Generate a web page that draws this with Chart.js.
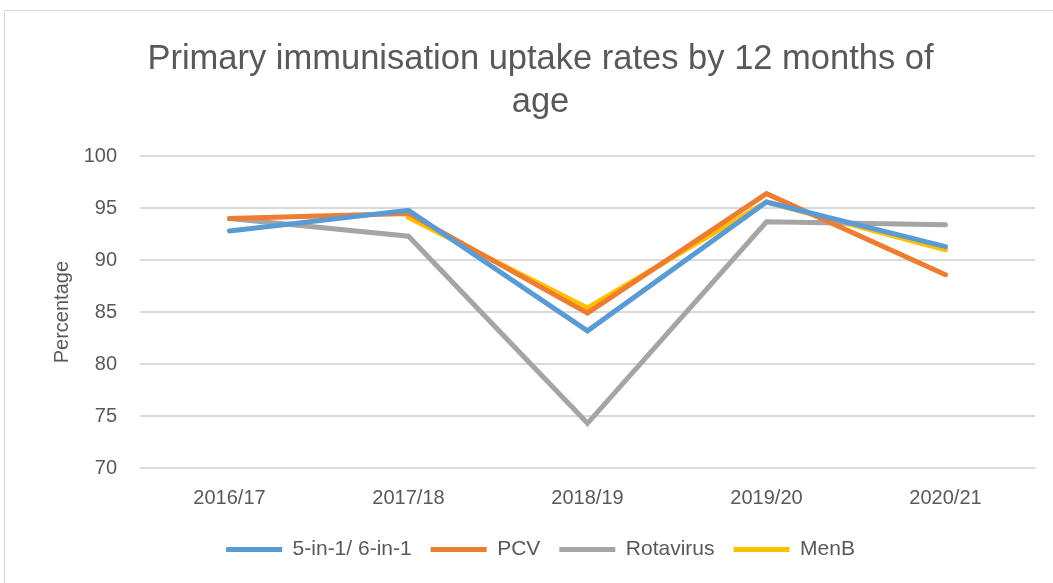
<!DOCTYPE html>
<html>
<head>
<meta charset="utf-8">
<script src="https://cdn.jsdelivr.net/npm/chart.js@4"></script>
<style>
  html, body { margin: 0; padding: 0; background: #fff; }
  #box {
    position: absolute; left: 4px; top: 10px;
    width: 1060px; height: 580px;
    border: 1px solid #d9d9d9; box-sizing: border-box;
  }
  #wrap { position: absolute; left: 0; top: 0; width: 1049px; height: 573px; }
</style>
</head>
<body>
<div id="box"><div id="wrap"><canvas id="c"></canvas></div></div>
<script>
// categories
const years = ["2016/17", "2017/18", "2018/19", "2019/20", "2020/21"];

// uptake (%) per vaccine
const sixInOne = [92.8, 94.8, 83.2, 95.6, 91.3];
const pcv = [94.0, 94.5, 84.9, 96.4, 88.6];
const rotavirus = [94.0, 92.3, 74.3, 93.7, 93.4];
const menB = [null, 94.1, 85.4, 95.6, 91.0];

const yTicks = [70, 75, 80, 85, 90, 95, 100];

const textColor = "#595959";
const font = "'Liberation Sans', sans-serif";

function series(label, data, color) {
  return {
    label: label,
    data: data,
    borderColor: color,
    backgroundColor: color,
    borderWidth: 5,
    pointRadius: 0,
    tension: 0,
    borderCapStyle: "round",
    borderJoinStyle: "miter"
  };
}

const defaultLabels = Chart.defaults.plugins.legend.labels.generateLabels;

new Chart(document.getElementById("c"), {
  type: "line",
  data: {
    labels: years,
    datasets: [
      series("5-in-1/ 6-in-1", sixInOne, "#5b9bd5"),
      series("PCV", pcv, "#ed7d31"),
      series("Rotavirus", rotavirus, "#a5a5a5"),
      series("MenB", menB, "#ffc000")
    ]
  },
  options: {
    responsive: true,
    maintainAspectRatio: false,
    animation: false,
    layout: { padding: { left: 41, right: 19, top: 27, bottom: 14 } },
    plugins: {
      title: {
        display: true,
        text: ["Primary immunisation uptake rates by 12 months of", "age"],
        color: textColor,
        font: { family: font, size: 34.5, weight: "normal", lineHeight: 1.25 },
        padding: { top: 0, bottom: 32 }
      },
      legend: {
        position: "bottom",
        labels: {
          color: textColor,
          font: { family: font, size: 21 },
          boxWidth: 56,
          boxHeight: 5,
          padding: 19,
          generateLabels: function (chart) {
            return defaultLabels(chart).map(function (l) {
              l.lineWidth = 0;
              return l;
            });
          }
        }
      },
      tooltip: { enabled: false }
    },
    scales: {
      x: {
        offset: true,
        grid: { display: false },
        border: { color: "#d9d9d9", width: 1 },
        ticks: { color: textColor, font: { family: font, size: 20 }, padding: 10 }
      },
      y: {
        min: 70,
        max: 100,
        afterBuildTicks: function (axis) {
          axis.ticks = yTicks.map(function (v) { return { value: v }; });
        },
        afterFit: function (axis) { axis.width = 94; },
        grid: { color: "#d9d9d9", lineWidth: 2, drawTicks: false },
        border: { display: false },
        ticks: { color: textColor, font: { family: font, size: 20 }, padding: 23 },
        title: {
          display: true,
          text: "Percentage",
          color: textColor,
          font: { family: font, size: 20 },
          padding: { bottom: 0 }
        }
      }
    }
  }
});
</script>
</body>
</html>
